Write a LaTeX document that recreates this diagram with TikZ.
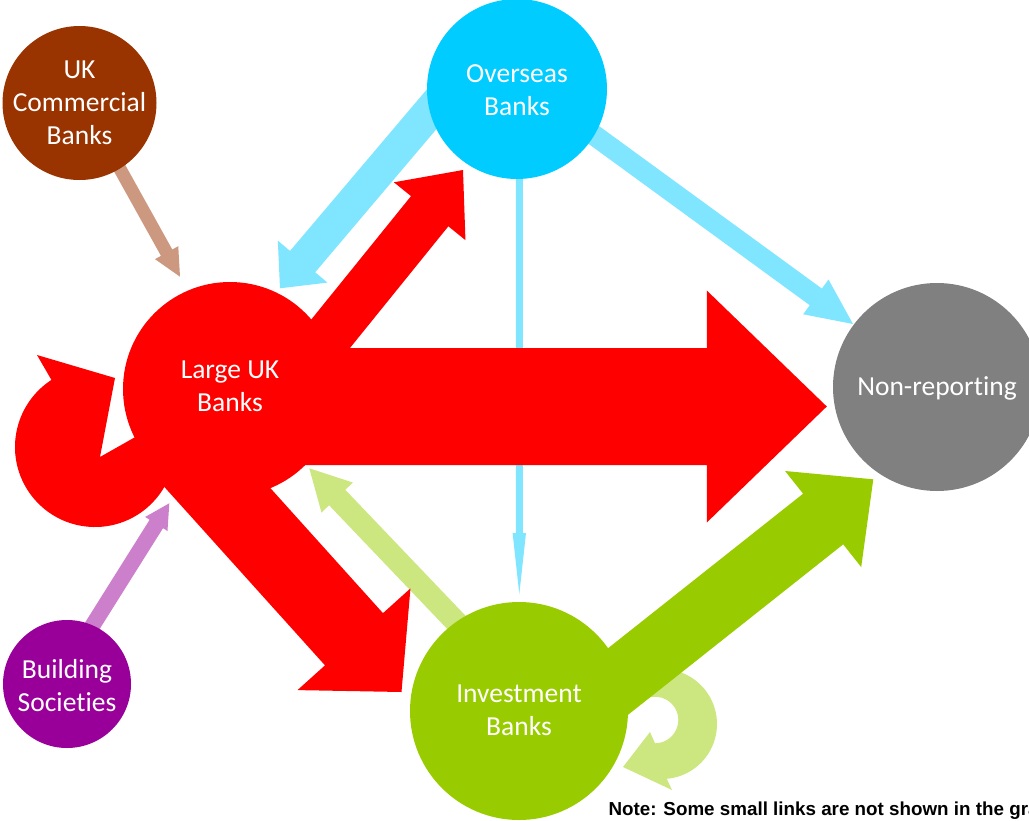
\documentclass[tikz,border=0pt]{standalone}
\usepackage{fontspec}
\setmainfont{Carlito}[Ligatures={NoCommon}]
\newfontfamily\notefont{Liberation Sans}
\usetikzlibrary{calc}
\definecolor{redc}{HTML}{FF0000}
\definecolor{ovsc}{HTML}{00CCFF}
\definecolor{ovsl}{HTML}{80E5FF}
\definecolor{ukcc}{HTML}{993300}
\definecolor{ukcl}{HTML}{CC9980}
\definecolor{nrc}{HTML}{808080}
\definecolor{ibc}{HTML}{99CC00}
\definecolor{ibl}{HTML}{CCE680}
\definecolor{bsc}{HTML}{990099}
\definecolor{bsl}{HTML}{CC80CC}
% #1 from, #2 to, #3 half shaft, #4 half head, #5 head length, #6 colour
\newcommand\blockarrow[6]{%
  \coordinate (hb) at ($(#2)!#5!(#1)$);
  \fill[#6] ($(#1)!#3!90:(#2)$) -- ($(hb)!#3!-90:(#1)$) -- ($(hb)!#4!-90:(#1)$) -- (#2)
    -- ($(hb)!#4!90:(#1)$) -- ($(hb)!#3!90:(#1)$) -- ($(#1)!#3!-90:(#2)$) -- cycle;}
\begin{document}
\begin{tikzpicture}[x=1pt,y=-1pt,
  bank/.style={circle, inner sep=0pt, draw=none},
  banktext/.style={text=white, align=center, inner sep=0pt,
    font=\fontsize{27.5}{33}\selectfont},
  notetext/.style={anchor=base west, inner sep=0pt,
    font=\notefont\bfseries\fontsize{18.8}{21}\selectfont}]
\useasboundingbox (0,0) rectangle (1029,820);
\clip (0,0) rectangle (1029,820);

% arrow end points
\coordinate (ukc-s) at (92.5,119.4);   \coordinate (ukc-e) at (180,276.7);
\coordinate (ol-s)  at (442,97);       \coordinate (ol-e)  at (280,288.3);
\coordinate (on-s)  at (587,130);      \coordinate (on-e)  at (853,324);
\coordinate (oi-s)  at (519.3,150);    \coordinate (oi-e)  at (519.3,594);
\coordinate (il-s)  at (481.8,649);    \coordinate (il-e)  at (309.3,468.3);
\coordinate (bl-s)  at (73.5,655.8);   \coordinate (bl-e)  at (169.3,503.3);
\coordinate (ln-s)  at (230,406.5);    \coordinate (ln-e)  at (826.8,406.5);
\coordinate (lo-s)  at (274.3,403.4);  \coordinate (lo-e)  at (463,170);
\coordinate (li-s)  at (180.7,446.8);  \coordinate (li-e)  at (401.5,692);
\coordinate (in-s)  at (575.4,715.3);  \coordinate (in-e)  at (873.3,479.3);
\coordinate (rl-c)  at (95,447);
\coordinate (gl-co) at (662,724);
\coordinate (gl-ci) at (655,720);

% self loop of Investment Banks
\fill[ibl] ($(gl-co)+(240:55)$) arc[start angle=240, end angle=445, radius=55]
  -- (672,790) -- (623,767) -- (650,732) -- ($(gl-ci)+(90:23.3)$)
  arc[start angle=90, end angle=-115, radius=23.3] -- cycle;

% light arrows
\blockarrow{ukc-s}{ukc-e}{6.5pt}{13.3pt}{27.5pt}{ukcl}
\blockarrow{ol-s}{ol-e}{16.5pt}{32.5pt}{35pt}{ovsl}
\blockarrow{on-s}{on-e}{10.3pt}{21.5pt}{46pt}{ovsl}
\blockarrow{oi-s}{oi-e}{3.5pt}{6.7pt}{61pt}{ovsl}
\blockarrow{il-s}{il-e}{11.2pt}{21.7pt}{40.4pt}{ibl}
\blockarrow{bl-s}{bl-e}{7.9pt}{13.2pt}{24.4pt}{bsl}

% strong arrows
\blockarrow{ln-s}{ln-e}{58.5pt}{116pt}{120pt}{redc}
\blockarrow{lo-s}{lo-e}{24pt}{46pt}{53pt}{redc}
\blockarrow{li-s}{li-e}{39pt}{76pt}{71pt}{redc}
\blockarrow{in-s}{in-e}{32.3pt}{61.3pt}{64pt}{ibc}

% self loop of Large UK Banks
\fill[redc] (190,406) -- ($(rl-c)+(10:80)$) arc[start angle=10, end angle=237, radius=80]
  -- (37,355) -- (115,378) -- (100,457) -- cycle;

% banks
\node[bank, fill=ukcc, minimum size=154pt,
  label={[banktext, name=ukc-t]center:UK\\Commercial\\Banks}] (ukc) at (79.5,103) {};
\node[bank, fill=ovsc, minimum size=180pt,
  label={[banktext, name=ovs-t, yshift=-1.5pt]center:Overseas\\Banks}] (ovs) at (517,89) {};
\node[bank, fill=redc, minimum size=214pt,
  label={[banktext, name=luk-t, yshift=3pt]center:Large UK\\Banks}] (luk) at (230,389) {};
\node[bank, fill=nrc, minimum size=208pt,
  label={[banktext, name=nr-t, yshift=-1.5pt]center:Non-reporting}] (nr) at (937,387) {};
\node[bank, fill=ibc, minimum size=218pt,
  label={[banktext, name=ib-t, yshift=1pt]center:Investment\\Banks}] (ib) at (519,711) {};
\node[bank, fill=bsc, minimum size=128pt,
  label={[banktext, name=bs-t, yshift=-1.5pt]center:Building\\Societies}] (bs) at (67,684) {};

\node[notetext] (note) at (608.3,815) {Note: Some small links are not shown in the graph};
\end{tikzpicture}
\end{document}
